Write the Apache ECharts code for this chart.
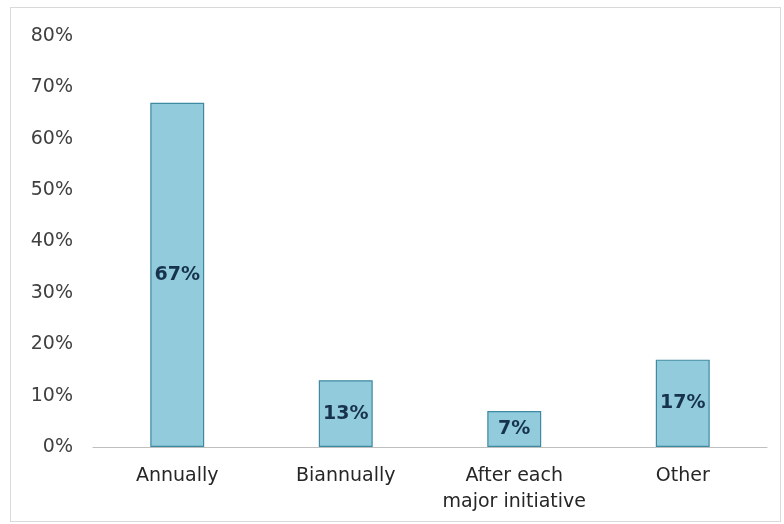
<!DOCTYPE html>
<html><head><meta charset="utf-8">
<script src="https://cdn.jsdelivr.net/npm/echarts@6/dist/echarts.min.js"></script>
<style>
html,body{margin:0;padding:0;background:#fff;}
#frame{position:absolute;left:10px;top:7px;width:771px;height:515px;border:1px solid #d9d9d9;box-sizing:border-box;}
#c{position:absolute;left:0;top:0;width:784px;height:524px;}
</style></head>
<body>
<div id="frame"></div>
<div id="c"></div>
<script>
const categories = ['Annually', 'Biannually', 'After each\nmajor initiative', 'Other'];
const values = [67, 13, 7, 17];
const yTicks = [0, 10, 20, 30, 40, 50, 60, 70, 80];

const FONT = 'DejaVu Sans, sans-serif';
const chart = echarts.init(document.getElementById('c'));
chart.setOption({
  animation: false,
  grid: {left: 93, right: 17, top: 36, bottom: 77, containLabel: false},
  xAxis: {
    type: 'category', data: categories,
    axisLine: {lineStyle: {color: '#bfbfbf', width: 1}},
    axisTick: {show: false},
    axisLabel: {interval: 0, hideOverlap: false, color: '#262626', fontSize: 19, fontFamily: FONT, margin: 16, lineHeight: 26}
  },
  yAxis: {
    type: 'value', min: yTicks[0], max: yTicks[yTicks.length-1], interval: 10,
    splitLine: {show: false},
    axisLine: {show: false}, axisTick: {show: false},
    axisLabel: {formatter: v => v + '%', color: '#404040', fontSize: 19, fontFamily: FONT, margin: 20}
  },
  series: [{
    type: 'bar', data: values, barWidth: '32%',
    itemStyle: {color: '#92cbdc', borderColor: '#3e8aa0', borderWidth: 1.2},
    label: {show: true, position: 'inside', formatter: p => p.value + '%', color: '#17324d', fontWeight: 'bold', fontSize: 19, fontFamily: FONT}
  }]
});
</script>
</body></html>
